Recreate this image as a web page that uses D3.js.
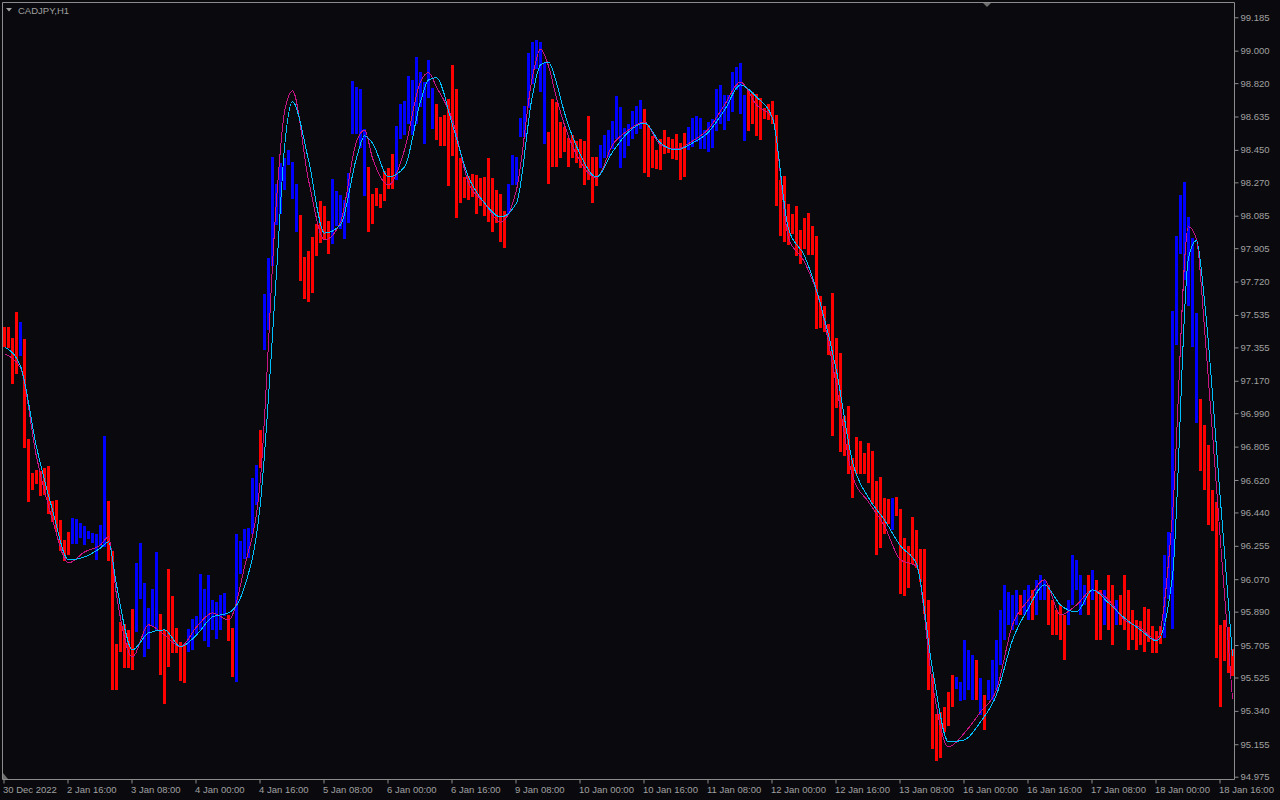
<!DOCTYPE html>
<html><head><meta charset="utf-8">
<script src="https://cdn.jsdelivr.net/npm/d3@7"></script>
<style>html,body{margin:0;padding:0;background:#0a0a0e;}svg{display:block;}</style>
</head><body><svg id="c" width="1280" height="800"></svg>
<script>
const symbolTitle = "CADJPY,H1";
const highs = [
97.468,97.468,97.407,97.552,97.496,97.402,96.848,96.659,96.676,96.670,
96.687,96.698,96.504,96.509,96.398,96.288,96.332,96.410,96.404,96.382,
96.365,96.338,96.327,96.321,96.371,96.864,96.504,96.227,95.711,95.833,
95.822,95.789,95.905,96.160,96.271,96.049,95.911,96.016,96.221,95.877,
95.789,96.127,95.977,95.800,95.722,95.711,95.794,95.850,95.866,96.099,
96.016,96.094,95.955,95.944,95.983,95.994,95.872,95.800,96.321,96.282,
96.349,96.354,96.631,96.703,96.897,97.651,97.851,98.411,98.261,98.378,
98.405,98.450,98.383,98.261,98.089,97.856,97.890,97.967,98.039,98.167,
98.139,98.056,98.289,98.222,98.200,98.172,98.322,98.832,98.799,98.788,
98.566,98.355,98.206,98.239,98.206,98.333,98.350,98.427,98.583,98.704,
98.721,98.860,98.838,98.965,98.882,98.826,98.948,98.793,98.704,98.632,
98.643,98.732,98.921,98.788,98.405,98.300,98.305,98.316,98.311,98.294,
98.300,98.405,98.294,98.228,98.206,98.111,98.261,98.422,98.411,98.627,
98.693,98.987,99.048,99.059,99.048,98.932,98.549,98.732,98.716,98.605,
98.577,98.516,98.533,98.499,98.510,98.499,98.638,98.411,98.411,98.477,
98.533,98.560,98.610,98.749,98.688,98.572,98.594,98.666,98.693,98.727,
98.677,98.588,98.527,98.450,98.510,98.560,98.522,98.510,98.538,98.488,
98.544,98.577,98.627,98.638,98.627,98.560,98.605,98.621,98.788,98.810,
98.754,98.754,98.882,98.910,98.932,98.754,98.777,98.771,98.760,98.738,
98.682,98.704,98.721,98.643,98.283,98.305,98.150,98.095,98.139,98.006,
98.073,98.100,98.028,97.973,97.640,97.585,97.485,97.657,97.407,97.324,
96.975,97.031,96.742,96.859,96.836,96.770,96.825,96.781,96.615,96.637,
96.521,96.515,96.521,96.526,96.460,96.299,96.254,96.415,96.343,96.238,
96.238,95.955,95.545,95.323,95.334,95.362,95.445,95.539,95.528,95.501,
95.733,95.678,95.650,95.623,95.523,95.429,95.512,95.623,95.733,95.900,
96.038,95.999,95.983,96.011,95.983,96.011,96.038,96.011,96.066,96.094,
96.066,96.038,95.955,95.900,95.927,95.872,95.955,96.205,96.177,96.094,
96.038,96.094,96.121,96.066,96.011,96.011,96.094,96.038,95.955,95.983,
96.094,96.011,95.900,95.844,95.839,95.916,95.905,95.811,95.783,95.811,
96.205,96.332,97.557,97.973,98.200,98.272,98.078,97.962,97.546,97.069,
96.925,96.814,96.565,96.498,95.817,95.844,95.805,95.684];
const lows = [
97.358,97.352,97.152,97.208,97.308,96.798,96.498,96.565,96.598,96.532,
96.537,96.432,96.387,96.332,96.227,96.171,96.205,96.266,96.266,96.299,
96.260,96.293,96.271,96.177,96.254,96.249,96.171,95.456,95.456,95.667,
95.578,95.578,95.567,95.778,95.961,95.639,95.684,95.811,95.783,95.539,
95.379,95.584,95.661,95.661,95.506,95.495,95.667,95.678,95.767,95.789,
95.728,95.695,95.789,95.739,95.789,95.866,95.728,95.528,95.501,96.099,
96.182,96.188,96.321,96.482,96.687,97.341,97.452,97.807,98.034,98.095,
98.228,98.366,98.178,97.995,97.723,97.624,97.607,97.657,97.862,97.934,
97.951,97.873,97.929,98.028,98.012,97.956,98.045,98.538,98.538,98.461,
98.195,97.995,98.039,98.139,98.128,98.167,98.233,98.233,98.283,98.510,
98.533,98.594,98.533,98.594,98.688,98.483,98.738,98.566,98.505,98.472,
98.472,98.250,98.416,98.073,98.156,98.183,98.172,98.189,98.095,98.139,
98.084,98.050,97.995,98.045,97.940,97.906,98.095,98.256,98.256,98.522,
98.522,98.682,98.815,98.899,98.771,98.483,98.261,98.355,98.355,98.405,
98.438,98.355,98.405,98.378,98.350,98.256,98.283,98.156,98.250,98.350,
98.405,98.411,98.455,98.510,98.350,98.405,98.472,98.510,98.538,98.566,
98.322,98.300,98.350,98.344,98.339,98.427,98.433,98.400,98.394,98.283,
98.300,98.450,98.466,98.494,98.455,98.455,98.438,98.461,98.555,98.594,
98.560,98.610,98.660,98.782,98.649,98.499,98.555,98.594,98.527,98.505,
98.621,98.616,98.594,98.139,97.973,97.940,97.923,97.984,97.862,97.818,
97.901,97.868,97.868,97.457,97.463,97.441,97.313,96.864,97.019,96.776,
96.753,96.654,96.521,96.654,96.654,96.654,96.604,96.487,96.205,96.243,
96.321,96.376,96.343,96.421,95.988,95.977,96.022,96.155,96.132,96.055,
95.877,95.456,95.129,95.063,95.079,95.223,95.257,95.362,95.462,95.395,
95.401,95.456,95.401,95.401,95.318,95.234,95.401,95.401,95.456,95.595,
95.733,95.817,95.789,95.817,95.872,95.872,95.844,95.844,95.872,95.955,
95.955,95.817,95.761,95.761,95.733,95.623,95.817,95.927,96.011,95.872,
95.927,95.872,95.955,95.733,95.733,95.817,95.789,95.706,95.817,95.817,
95.789,95.678,95.733,95.678,95.706,95.667,95.722,95.661,95.661,95.711,
95.744,95.961,95.794,97.369,97.873,97.729,97.585,97.358,96.936,96.670,
96.565,96.371,96.338,95.634,95.362,95.617,95.550,95.534];
// u = up (blue), d = down (red), one letter per bar
const barDirs = ("dddd u dddddddddddd uuuuuuuuu ddddddd uuuuuu ddddddd uuuuuuuuuu dd uuuuuu d uuuuuuuuu " +
 "dddddddd uuuuuuuuu ddddddd uuuuuuuuuu dddddddddddddddddd uuuuuuuuuu ddddddddddddd uuuuuuuuuuu " +
 "ddddddddddd uuuuuuuuuuuuuuu dddddddddddddddddddddddddddddddddddd u ddddddddddddddd uuuuu d u d " +
 "uuuuuuuu d uu d uuu ddddd uuuuu d u dd u dd u ddddddddddd uuuuuuuuu ddddddddd").replace(/ /g,"").split("");

const lineBars = [0,4,8,12,16,20,24,26,28,32,
 36,40,44,48,52,56,60,64,68,70,
 72,76,80,84,88,90,92,96,100,104,
 106,108,112,116,120,124,128,132,134,136,
 138,140,144,148,152,156,160,164,168,172,
 176,180,184,188,192,196,200,204,208,212,
 216,220,224,228,232,236,240,244,248,252,
 256,260,264,268,272,276,280,284,288,292,
 296,298,300,304,307];
const fastLine = [97.319,97.241,96.748,96.398,96.160,96.221,96.260,96.304,95.983,95.639,
 95.817,95.761,95.695,95.805,95.883,95.844,96.138,96.631,98.172,98.660,
 98.777,98.283,97.951,98.050,98.496,98.560,98.405,98.256,98.450,98.828,
 98.878,98.799,98.616,98.267,98.156,98.050,98.228,98.856,99.008,98.915,
 98.738,98.588,98.383,98.294,98.477,98.560,98.605,98.477,98.455,98.499,
 98.566,98.699,98.826,98.699,98.627,97.962,97.829,97.590,97.141,96.642,
 96.498,96.365,96.177,96.143,95.489,95.140,95.218,95.334,95.456,95.817,
 95.955,96.066,95.872,95.927,96.011,95.955,95.844,95.800,95.733,96.432,
 98.024,97.956,97.463,96.277,95.406];
const slowLine = [97.358,97.252,96.803,96.454,96.177,96.193,96.243,96.277,96.038,95.678,
 95.772,95.789,95.695,95.761,95.861,95.883,96.027,96.498,97.768,98.462,
 98.716,98.394,97.989,98.034,98.405,98.527,98.488,98.300,98.355,98.717,
 98.838,98.850,98.588,98.300,98.156,98.078,98.156,98.754,98.921,98.937,
 98.821,98.655,98.422,98.300,98.438,98.549,98.599,98.488,98.450,98.488,
 98.549,98.671,98.810,98.743,98.627,98.012,97.862,97.596,97.225,96.720,
 96.521,96.398,96.254,96.155,95.573,95.168,95.179,95.279,95.429,95.733,
 95.911,96.038,95.927,95.889,96.011,95.939,95.855,95.789,95.728,96.088,
 97.852,97.947,97.613,96.504,95.645];

const yTickLabels = ["99.185","99.000","98.820","98.635","98.450","98.270","98.085","97.905","97.720","97.535",
 "97.355","97.170","96.990","96.805","96.620","96.440","96.255","96.070","95.890","95.705","95.525","95.340",
 "95.155","94.975"];
const xTickBars = [0,16,32,48,64,80,96,112,128,144,160,176,192,208,224,240,256,272,288,304];
const xTickLabels = ["30 Dec 2022","2 Jan 16:00","3 Jan 08:00","4 Jan 00:00","4 Jan 16:00","5 Jan 08:00",
 "6 Jan 00:00","6 Jan 16:00","9 Jan 08:00","10 Jan 00:00","10 Jan 16:00","11 Jan 08:00","12 Jan 00:00",
 "12 Jan 16:00","13 Jan 08:00","16 Jan 00:00","16 Jan 16:00","17 Jan 08:00","18 Jan 00:00","18 Jan 16:00"];

const W = 1280, H = 800;
const axisCol = "#8c8c8c", textCol = "#a0a0a0";
const font = "'Liberation Sans', Arial, sans-serif";
const svg = d3.select("#c");
svg.append("rect").attr("width", W).attr("height", H).attr("fill", "#0a0a0e");

const xs = d3.scaleLinear().domain([0, 307]).range([3, 1231]);
const ys = d3.scaleLinear().domain([94.975, 99.185]).range([776.7, 17.3]);

// bars
svg.append("g").attr("shape-rendering", "crispEdges")
  .selectAll("rect").data(highs).join("rect")
  .attr("x", (d, i) => xs(i))
  .attr("width", 3)
  .attr("y", d => Math.round(ys(d)))
  .attr("height", (d, i) => Math.max(1, Math.round(ys(lows[i])) - Math.round(ys(d))))
  .attr("fill", (d, i) => barDirs[i] === "u" ? "#0000ff" : "#ff0000");

// lines
const mk = vals => d3.line().curve(d3.curveMonotoneX)
  .x(b => xs(b) + 1.5).y((b, k) => ys(vals[k]));
svg.append("path").attr("d", mk(fastLine)(lineBars)).attr("fill", "none")
  .attr("stroke", "#c71585").attr("stroke-width", 1).attr("shape-rendering", "crispEdges");
svg.append("path").attr("d", mk(slowLine)(lineBars)).attr("fill", "none")
  .attr("stroke", "#00bfff").attr("stroke-width", 1).attr("shape-rendering", "crispEdges");

// frame
svg.append("path").attr("d", "M2.5,779.5 V2.5 H1234.5 V779.5 H2.5")
  .attr("stroke", axisCol).attr("stroke-width", 1).attr("fill", "none");

// y axis
const yAxis = d3.axisRight(ys)
  .tickValues(yTickLabels.map(Number))
  .tickFormat((d, i) => yTickLabels[i])
  .tickSize(4).tickSizeOuter(0).tickPadding(2);
const gy = svg.append("g").attr("transform", "translate(1234.5,0)").call(yAxis);
gy.select(".domain").remove();
gy.selectAll(".tick line").attr("stroke", axisCol);
gy.selectAll(".tick text").attr("fill", textCol).attr("font-family", font).attr("font-size", "9.5px");

// x axis
const xAxis = d3.axisBottom(xs)
  .tickValues(xTickBars)
  .tickFormat((d, i) => xTickLabels[i])
  .tickSize(4).tickSizeOuter(0).tickPadding(3);
const gx = svg.append("g").attr("transform", "translate(0.5,779.5)").call(xAxis);
gx.select(".domain").remove();
gx.selectAll(".tick line").attr("stroke", axisCol);
gx.selectAll(".tick text").attr("fill", textCol).attr("font-family", font).attr("font-size", "9.5px")
  .attr("text-anchor", "start").attr("dx", "-1");

// title
svg.append("path").attr("d", "M6,8 L12,8 L9,11.5 Z").attr("fill", textCol);
svg.append("text").attr("x", 18).attr("y", 13.5).attr("fill", textCol)
  .attr("font-family", font).attr("font-size", "9.5px").text(symbolTitle);

// small markers
svg.append("path").attr("d", "M983,3 L991,3 L987,7 Z").attr("fill", "#6e6e6e");
svg.append("path").attr("d", "M3,773 L3,779 L8,779 Z").attr("fill", "#6e6e6e");
</script></body></html>
